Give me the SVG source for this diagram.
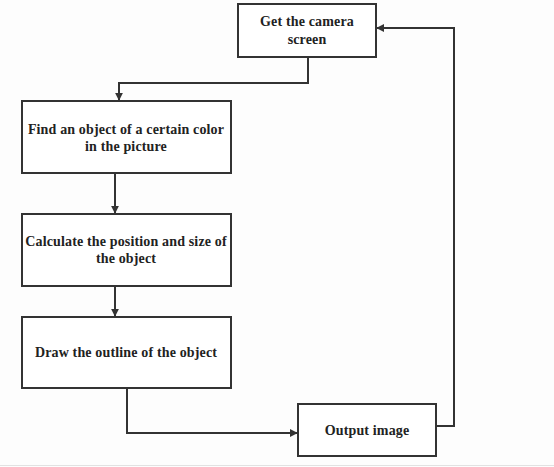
<svg xmlns="http://www.w3.org/2000/svg" width="554" height="467" viewBox="0 0 554 467">
<style>
.box{fill:#fff;stroke:#333;stroke-width:2}
.lbl{font-family:"Liberation Serif","Times New Roman",serif;font-weight:bold;font-size:14px;letter-spacing:0.15px;fill:#222;text-anchor:middle}
.conn{fill:none;stroke:#333;stroke-width:2}
</style>
<defs>
<marker id="arr" viewBox="0 0 10 10" refX="9" refY="5" markerWidth="4" markerHeight="4" orient="auto" markerUnits="strokeWidth">
<path d="M0,0 L10,5 L0,10 z" fill="#333"/>
</marker>
</defs>
<rect width="554" height="467" fill="#fdfdfd"/>
<line x1="0" y1="465.5" x2="554" y2="465.5" stroke="#e2e2e2" stroke-width="1"/>
<g id="connectors">
<path class="conn" d="M308,57 V83 H119 V100" marker-end="url(#arr)"/>
<path class="conn" d="M115,173 V213" marker-end="url(#arr)"/>
<path class="conn" d="M115,286 V316" marker-end="url(#arr)"/>
<path class="conn" d="M127,388 V433 H297" marker-end="url(#arr)"/>
<path class="conn" d="M436,426 H454 V28 H377" marker-end="url(#arr)"/>
</g>
<g id="n1">
<rect class="box" x="238" y="4" width="138" height="53"/>
<text class="lbl" x="307" y="26">Get the camera</text>
<text class="lbl" x="307" y="44">screen</text>
</g>
<g id="n2">
<rect class="box" x="22" y="101" width="209" height="72"/>
<text class="lbl" x="126" y="134">Find an object of a certain color</text>
<text class="lbl" x="126" y="151">in the picture</text>
</g>
<g id="n3">
<rect class="box" x="22" y="214" width="209" height="72"/>
<text class="lbl" x="126" y="246">Calculate the position and size of</text>
<text class="lbl" x="126" y="263">the object</text>
</g>
<g id="n4">
<rect class="box" x="22" y="317" width="209" height="71"/>
<text class="lbl" x="126" y="357">Draw the outline of the object</text>
</g>
<g id="n5">
<rect class="box" x="298" y="404" width="138" height="52"/>
<text class="lbl" x="367" y="435">Output image</text>
</g>
</svg>
